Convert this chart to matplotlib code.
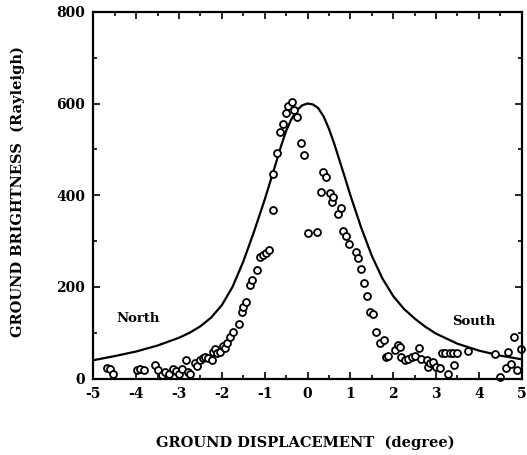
import matplotlib
matplotlib.use("Agg")
import matplotlib.pyplot as plt
from matplotlib.ticker import MultipleLocator

# Measured ground brightness (Rayleigh) versus ground displacement (degree)
obs_x = [-4.68, -4.62, -4.53,
         -3.97, -3.91, -3.82,
         -3.57, -3.48, -3.40, -3.32, -3.24, -3.15, -3.06, -3.00, -2.92, -2.84, -2.80, -2.74,
         -2.63, -2.57, -2.50, -2.43, -2.39, -2.32, -2.24, -2.20, -2.16, -2.12, -2.04, -1.97,
         -1.93, -1.89, -1.81, -1.73, -1.59, -1.54, -1.50, -1.44, -1.34, -1.30, -1.19, -1.11,
         -1.03, -0.96, -0.89, -0.815, -0.80, -0.72, -0.645, -0.58, -0.505, -0.45, -0.37, -0.32,
         -0.24, -0.155, -0.085,
         0.0, 0.225, 0.305, 0.365, 0.43, 0.52, 0.575, 0.60, 0.715, 0.79, 0.82, 0.895, 0.97,
         1.13, 1.18, 1.26, 1.31, 1.40, 1.455, 1.53, 1.59, 1.69, 1.78, 1.84, 1.88,
         2.04, 2.11, 2.15, 2.19, 2.27, 2.35, 2.43, 2.50, 2.60, 2.66, 2.78, 2.81, 2.85, 2.93,
         3.01, 3.09, 3.13, 3.20, 3.28, 3.32, 3.40, 3.41, 3.49, 3.75,
         4.37, 4.50, 4.64, 4.68, 4.76, 4.82, 4.88, 4.98]
obs_y = [22, 20, 11,
         18, 21, 19,
         29, 18, 8, 15, 10, 20, 16, 10, 20, 40, 14, 10,
         33, 27, 40, 44, 48, 44, 40, 58, 64, 55, 58, 71,
         66, 77, 91, 102, 118, 146, 157, 168, 204, 215, 237, 266,
         270, 273, 280, 367, 447, 493, 538, 555, 580, 594, 604, 586,
         571, 513, 487,
         318, 320, 407, 450, 440, 404, 385, 395, 360, 373, 322, 311, 293,
         277, 262, 238, 208, 180, 146, 141, 101, 77, 85, 46, 50,
         62, 73, 68, 46, 40, 42, 48, 49, 66, 42, 40, 26, 33, 37,
         26, 22, 55, 56, 10, 55, 55, 29, 55, 61,
         53, 3, 22, 58, 32, 91, 18, 64]

# Model brightness profile
model_x = [-5.0, -4.5, -4.0, -3.5, -3.0, -2.75, -2.5, -2.25, -2.0, -1.75, -1.5, -1.25,
           -1.0, -0.875, -0.75, -0.625, -0.5, -0.375, -0.25, -0.125, 0.0,
           0.125, 0.25, 0.375, 0.5, 0.625, 0.75, 0.875, 1.0, 1.25, 1.5, 1.75,
           2.0, 2.25, 2.5, 2.75, 3.0, 3.5, 4.0, 4.5, 5.0]
model_y = [40, 49, 59, 72, 89, 100, 114, 133, 160, 200, 255, 320,
           390, 428, 466, 505, 540, 566, 585, 596, 600,
           598, 590, 572, 545, 512, 475, 438, 400, 330, 268, 218,
           180, 152, 131, 113, 98, 76, 61, 50, 42]

x_ticks = [-5, -4, -3, -2, -1, 0, 1, 2, 3, 4, 5]
y_ticks = [0, 200, 400, 600, 800]

serif = ["DejaVu Serif"]

fig = plt.figure(figsize=(5.27, 4.55), dpi=100)
ax = fig.add_axes([0.177, 0.168, 0.813, 0.806])

ax.plot(model_x, model_y, color="black", lw=1.6, solid_joinstyle="round")
ax.plot(obs_x, obs_y, linestyle="none", marker="o", markersize=5,
        markerfacecolor="white", markeredgecolor="black", markeredgewidth=1.3,
        clip_on=False)

ax.set_xlim(-5, 5)
ax.set_ylim(0, 800)
ax.set_xticks(x_ticks)
ax.set_yticks(y_ticks)
ax.set_xticklabels([str(v) for v in x_ticks], family=serif, fontweight="bold", fontsize=10)
ax.set_yticklabels([str(v) for v in y_ticks], family=serif, fontweight="bold", fontsize=10)
ax.xaxis.set_minor_locator(MultipleLocator(0.5))
ax.yaxis.set_minor_locator(MultipleLocator(100))
ax.tick_params(which="both", direction="in", top=True, right=True, width=1.2)
ax.tick_params(which="major", length=5, pad=6)
ax.tick_params(which="minor", length=3)
for s in ax.spines.values():
    s.set_linewidth(1.6)

ax.text(-3.96, 132, "North", family=serif, fontweight="bold", fontsize=9.5,
        ha="center", va="center")
ax.text(3.88, 125, "South", family=serif, fontweight="bold", fontsize=9.5,
        ha="center", va="center")

fig.text(0.58, 0.027, "GROUND DISPLACEMENT  (degree)", family=serif,
         fontweight="semibold", fontsize=10.5, ha="center", va="center")
fig.text(0.034, 0.58, "GROUND BRIGHTNESS  (Rayleigh)", family=serif,
         fontweight="semibold", fontsize=10.5, ha="center", va="center",
         rotation=90)

fig.savefig("out.png", dpi=100)
